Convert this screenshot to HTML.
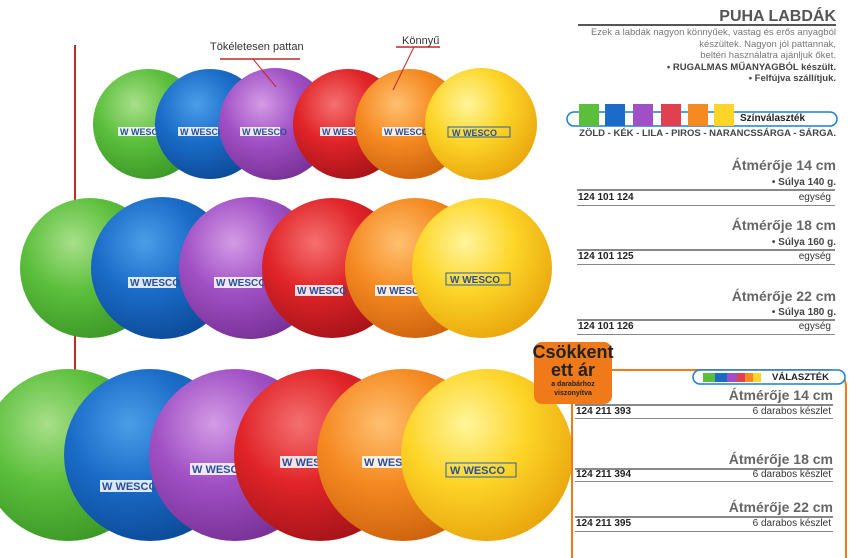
<!DOCTYPE html>
<html><head><meta charset="utf-8">
<style>
*{margin:0;padding:0;box-sizing:border-box}
body{width:851px;height:558px;background:#fff;position:relative;overflow:hidden;font-family:"Liberation Sans",sans-serif;color:#222}
.a{position:absolute;white-space:nowrap}
.r{text-align:right}
.hd{font-weight:bold;color:#666;font-size:14px}
.ln{position:absolute;height:2px;background:#888}
.code{font-weight:bold;font-size:10px}
.u{font-size:10px;color:#333}
</style></head><body>
<svg width="851" height="558" style="position:absolute;left:0;top:0">
<defs>
<radialGradient id="g" cx="0.38" cy="0.32" r="0.7"><stop offset="0" stop-color="#a8e08a"/><stop offset="0.5" stop-color="#5cbf3c"/><stop offset="1" stop-color="#3d9a28"/></radialGradient>
<radialGradient id="b" cx="0.38" cy="0.32" r="0.7"><stop offset="0" stop-color="#4a9ee8"/><stop offset="0.5" stop-color="#1a6cc8"/><stop offset="1" stop-color="#0d4c9a"/></radialGradient>
<radialGradient id="p" cx="0.38" cy="0.32" r="0.7"><stop offset="0" stop-color="#d49be6"/><stop offset="0.5" stop-color="#a050c4"/><stop offset="1" stop-color="#7a3298"/></radialGradient>
<radialGradient id="d" cx="0.38" cy="0.32" r="0.7"><stop offset="0" stop-color="#f57070"/><stop offset="0.5" stop-color="#e02428"/><stop offset="1" stop-color="#a8141a"/></radialGradient>
<radialGradient id="o" cx="0.38" cy="0.32" r="0.7"><stop offset="0" stop-color="#ffc070"/><stop offset="0.5" stop-color="#f58a22"/><stop offset="1" stop-color="#d0640e"/></radialGradient>
<radialGradient id="y" cx="0.38" cy="0.32" r="0.7"><stop offset="0" stop-color="#fff59a"/><stop offset="0.5" stop-color="#fdd528"/><stop offset="1" stop-color="#eaa80e"/></radialGradient>
</defs>
<line x1="75" y1="45" x2="75" y2="370" stroke="#c0282d" stroke-width="2"/>
<g font-family="Liberation Sans" font-weight="bold" font-size="9" fill="#2a4f9a">
<circle cx="148" cy="124" r="55" fill="url(#g)"/><rect x="118" y="127" width="40" height="9" fill="#fff" opacity="0.85"/><text x="120" y="135">W WESCO</text>
<circle cx="210" cy="124" r="55" fill="url(#b)"/><rect x="178" y="127" width="40" height="9" fill="#fff" opacity="0.85"/><text x="180" y="135">W WESCO</text>
<circle cx="275" cy="124" r="56" fill="url(#p)"/><rect x="240" y="127" width="40" height="9" fill="#fff" opacity="0.85"/><text x="242" y="135">W WESCO</text>
<circle cx="348" cy="124" r="55" fill="url(#d)"/><rect x="320" y="127" width="40" height="9" fill="#fff" opacity="0.85"/><text x="322" y="135">W WESCO</text>
<circle cx="410" cy="124" r="55" fill="url(#o)"/><rect x="382" y="127" width="40" height="9" fill="#fff" opacity="0.85"/><text x="384" y="135">W WESCO</text>
<circle cx="481" cy="124" r="56" fill="url(#y)"/><rect x="448" y="127" width="62" height="10" fill="none" stroke="#2a5fa0"/><text x="452" y="136">W WESCO</text>
</g>
<g font-family="Liberation Sans" font-weight="bold" font-size="10" fill="#2a4f9a">
<circle cx="90" cy="268" r="70" fill="url(#g)"/>
<circle cx="162" cy="268" r="71" fill="url(#b)"/><rect x="128" y="277" width="48" height="11" fill="#fff" opacity="0.85"/><text x="130" y="286">W WESCO</text>
<circle cx="250" cy="268" r="71" fill="url(#p)"/><rect x="214" y="277" width="48" height="11" fill="#fff" opacity="0.85"/><text x="216" y="286">W WESCO</text>
<circle cx="332" cy="268" r="70" fill="url(#d)"/><rect x="295" y="285" width="48" height="11" fill="#fff" opacity="0.85"/><text x="297" y="294">W WESCO</text>
<circle cx="415" cy="268" r="70" fill="url(#o)"/><rect x="375" y="285" width="48" height="11" fill="#fff" opacity="0.85"/><text x="377" y="294">W WESCO</text>
<circle cx="482" cy="268" r="70" fill="url(#y)"/><rect x="446" y="273" width="64" height="12" fill="none" stroke="#2a5fa0"/><text x="450" y="283">W WESCO</text>
</g>
<g font-family="Liberation Sans" font-weight="bold" font-size="11" fill="#2a4f9a">
<circle cx="68" cy="455" r="86" fill="url(#g)"/>
<circle cx="150" cy="455" r="86" fill="url(#b)"/><rect x="100" y="480" width="52" height="12" fill="#fff" opacity="0.85"/><text x="102" y="490">W WESCO</text>
<circle cx="235" cy="455" r="86" fill="url(#p)"/><rect x="190" y="463" width="52" height="12" fill="#fff" opacity="0.85"/><text x="192" y="473">W WESCO</text>
<circle cx="320" cy="455" r="86" fill="url(#d)"/><rect x="280" y="456" width="52" height="12" fill="#fff" opacity="0.85"/><text x="282" y="466">W WESCO</text>
<circle cx="403" cy="455" r="86" fill="url(#o)"/><rect x="362" y="456" width="52" height="12" fill="#fff" opacity="0.85"/><text x="364" y="466">W WESCO</text>
<circle cx="487" cy="455" r="86" fill="url(#y)"/><rect x="446" y="463" width="70" height="14" fill="none" stroke="#2a5fa0"/><text x="450" y="474">W WESCO</text>
</g>
<line x1="220" y1="59" x2="300" y2="59" stroke="#c0282d" stroke-width="1.5"/>
<line x1="253" y1="59" x2="276" y2="87" stroke="#c0282d"/>
<line x1="396" y1="47" x2="440" y2="47" stroke="#c0282d" stroke-width="1.5"/>
<line x1="414" y1="47" x2="393" y2="90" stroke="#c0282d"/>
<path d="M572 558 V380 Q572 370 582 370 H828 Q846 370 846 388 V558" fill="none" stroke="#f07a1a" stroke-width="2"/>
<rect x="567" y="112" width="270" height="14" rx="7" fill="#fff" stroke="#1a7fd0" stroke-width="1.5"/>
<rect x="579" y="104" width="20" height="22" fill="#5cbf3c"/><rect x="605" y="104" width="20" height="22" fill="#1a6cc8"/>
<rect x="633" y="104" width="20" height="22" fill="#a050c4"/><rect x="661" y="104" width="20" height="22" fill="#e04050"/>
<rect x="688" y="104" width="20" height="22" fill="#f58a22"/><rect x="714" y="104" width="20" height="22" fill="#fdd528"/>
<rect x="693" y="370" width="152" height="14" rx="7" fill="#fff" stroke="#1a7fd0" stroke-width="1.5"/>
<rect x="703" y="373" width="12" height="9" fill="#5cbf3c"/><rect x="715" y="373" width="12" height="9" fill="#1a6cc8"/><rect x="727" y="373" width="10" height="9" fill="#a050c4"/><rect x="737" y="373" width="8" height="9" fill="#e04050"/><rect x="745" y="373" width="8" height="9" fill="#f58a22"/><rect x="753" y="373" width="8" height="9" fill="#fdd528"/>
<rect x="534" y="342" width="78" height="62" rx="8" fill="#f07a1a"/>
</svg>
<div class="a" style="left:210px;top:41px;font-size:11px;color:#333">Tökéletesen pattan</div>
<div class="a" style="left:402px;top:35px;font-size:11px;color:#333">Könnyű</div>

<div class="a r hd" style="right:15px;top:8px;font-size:16px;color:#555">PUHA LABDÁK</div>
<div class="ln" style="left:578px;top:24px;width:258px;background:#555"></div>
<div class="a r" style="right:15px;top:27px;font-size:9.5px;line-height:11.5px;color:#777">Ezek a labdák nagyon könnyűek, vastag és erős anyagból<br>készültek. Nagyon jól pattannak,<br>beltéri használatra ajánljuk őket.<br><b style="color:#444">• RUGALMAS MŰANYAGBÓL készült.</b><br><b style="color:#444">• Felfújva szállítjuk.</b></div>
<div class="a" style="left:740px;top:113px;font-size:10px;font-weight:bold">Színválaszték</div>
<div class="a r" style="right:15px;top:128px;font-size:9.5px;font-weight:bold;color:#444">ZÖLD - KÉK - LILA - PIROS - NARANCSSÁRGA - SÁRGA.</div>

<div class="a r hd" style="right:15px;top:157px">Átmérője 14 cm</div>
<div class="a r" style="right:15px;top:177px;font-size:10px;font-weight:bold;color:#444">• Súlya 140 g.</div>
<div class="ln" style="left:577px;top:189px;width:258px"></div>
<div class="a code" style="left:578px;top:192px">124 101 124</div>
<div class="a r u" style="right:20px;top:192px">egység</div>
<div class="ln" style="left:577px;top:205px;width:258px;height:1px"></div>

<div class="a r hd" style="right:15px;top:217px">Átmérője 18 cm</div>
<div class="a r" style="right:15px;top:237px;font-size:10px;font-weight:bold;color:#444">• Súlya 160 g.</div>
<div class="ln" style="left:577px;top:249px;width:258px"></div>
<div class="a code" style="left:578px;top:251px">124 101 125</div>
<div class="a r u" style="right:20px;top:251px">egység</div>
<div class="ln" style="left:577px;top:264px;width:258px;height:1px"></div>

<div class="a r hd" style="right:15px;top:288px">Átmérője 22 cm</div>
<div class="a r" style="right:15px;top:307px;font-size:10px;font-weight:bold;color:#444">• Súlya 180 g.</div>
<div class="ln" style="left:577px;top:319px;width:258px"></div>
<div class="a code" style="left:578px;top:321px">124 101 126</div>
<div class="a r u" style="right:20px;top:321px">egység</div>
<div class="ln" style="left:577px;top:334px;width:258px;height:1px"></div>

<div class="a" style="left:532px;top:343px;font-size:18px;font-weight:bold;line-height:18px;text-align:center;width:82px;color:#222">Csökkent<br>ett ár</div>
<div class="a" style="left:534px;top:380px;font-size:7px;font-weight:bold;line-height:9px;text-align:center;width:78px;color:#222">a darabárhoz<br>viszonyítva</div>

<div class="a" style="left:772px;top:372px;font-size:9.5px;font-weight:bold">VÁLASZTÉK</div>
<div class="a r hd" style="right:18px;top:387px">Átmérője 14 cm</div>
<div class="ln" style="left:575px;top:404px;width:258px"></div>
<div class="a code" style="left:576px;top:406px">124 211 393</div>
<div class="a r u" style="right:20px;top:406px">6 darabos készlet</div>
<div class="ln" style="left:575px;top:418px;width:258px;height:1px"></div>

<div class="a r hd" style="right:18px;top:451px">Átmérője 18 cm</div>
<div class="ln" style="left:575px;top:468px;width:258px"></div>
<div class="a code" style="left:576px;top:469px">124 211 394</div>
<div class="a r u" style="right:20px;top:469px">6 darabos készlet</div>
<div class="ln" style="left:575px;top:481px;width:258px;height:1px"></div>

<div class="a r hd" style="right:18px;top:499px">Átmérője 22 cm</div>
<div class="ln" style="left:575px;top:516px;width:258px"></div>
<div class="a code" style="left:576px;top:518px">124 211 395</div>
<div class="a r u" style="right:20px;top:518px">6 darabos készlet</div>
<div class="ln" style="left:575px;top:531px;width:258px;height:1px"></div>
</body></html>
